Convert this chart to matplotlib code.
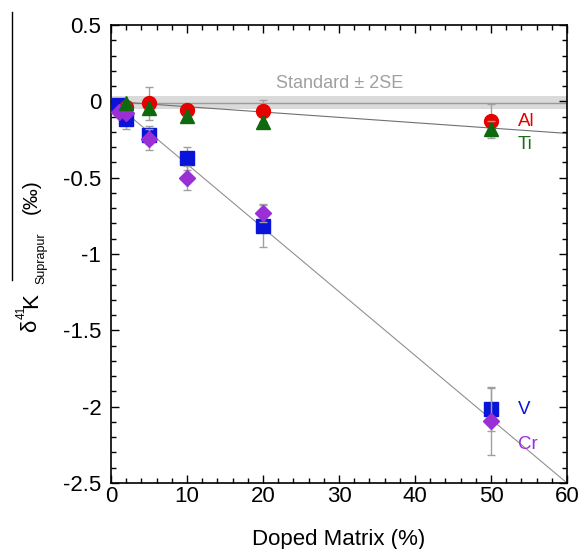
import matplotlib
matplotlib.use('Agg')
import matplotlib.pyplot as plt
from matplotlib.lines import Line2D
from matplotlib.ticker import MultipleLocator

plt.rcParams['font.family'] = ['Liberation Sans', 'DejaVu Sans']

# data
al_x = [2, 5, 10, 20, 50]
al_y = [-0.035, -0.013, -0.06, -0.064, -0.13]
al_err = [0.0, 0.11, 0.03, 0.07, 0.11]

ti_x = [2, 5, 10, 20, 50]
ti_y = [-0.01, -0.046, -0.096, -0.133, -0.18]
ti_err = [0.0, 0.0, 0.0, 0.0, 0.05]

v_x = [1, 2, 5, 10, 20, 50]
v_y = [-0.024, -0.118, -0.22, -0.373, -0.817, -2.017]
v_err = [0.0, 0.06, 0.06, 0.075, 0.14, 0.14]

cr_x = [1, 2, 5, 10, 20, 50]
cr_y = [-0.068, -0.079, -0.249, -0.504, -0.733, -2.094]
cr_err = [0.0, 0.0, 0.07, 0.08, 0.06, 0.22]

std_mid = -0.01
std_lo, std_hi = -0.05, 0.035

fit_alti_x = [0, 60]
fit_alti_y = [0.0, -0.21]
fit_vcr_x = [1, 60]
fit_vcr_y = [-0.035, -2.5]

yticks = [-2.5, -2, -1.5, -1, -0.5, 0, 0.5]
ytick_labels = ['-2.5', '-2', '-1.5', '-1', '-0.5', '0', '0.5']

W, H = 581, 549
fig = plt.figure(figsize=(W / 100, H / 100), dpi=100)
ax = fig.add_axes([111 / W, 1 - 483 / H, 456 / W, 458 / H])

ax.axhspan(std_lo, std_hi, color='#dadada', lw=0, zorder=0)
ax.axhline(std_mid, color='#9a9a9a', lw=1, zorder=1)
ax.text(30.1, 0.12, 'Standard ± 2SE', color='#a0a0a0', fontsize=13,
        ha='center', va='center')

ax.plot(fit_alti_x, fit_alti_y, color='#707070', lw=0.8, zorder=1)
ax.plot(fit_vcr_x, fit_vcr_y, color='#909090', lw=0.8, zorder=1)

ekw = dict(ls='none', ecolor='#a0a0a0', elinewidth=1, capsize=3, capthick=1)
ax.errorbar(v_x, v_y, yerr=v_err, marker='s', ms=9.5, mfc='#0a14d8',
            mec='#0a14d8', zorder=3, **ekw)
ax.errorbar(cr_x, cr_y, yerr=cr_err, marker='D', ms=8.5, mfc='#9a2fd6',
            mec='#9a2fd6', zorder=4, **ekw)
ax.errorbar(al_x, al_y, yerr=al_err, marker='o', ms=10, mfc='#e60000',
            mec='#e60000', zorder=3, **ekw)
ax.errorbar(ti_x, ti_y, yerr=ti_err, marker='^', ms=10, mfc='#0f6a0f',
            mec='#0f6a0f', zorder=4, **ekw)

ax.text(53.5, -0.13, 'Al', color='#e60000', fontsize=13.5, va='center')
ax.text(53.5, -0.285, 'Ti', color='#1a6e1a', fontsize=13.5, va='center')
ax.text(53.5, -2.02, 'V', color='#0a14d8', fontsize=13.5, va='center')
ax.text(53.5, -2.25, 'Cr', color='#9a2fd6', fontsize=13.5, va='center')

ax.set_xlim(0, 60)
ax.set_ylim(-2.5, 0.5)
ax.xaxis.set_major_locator(MultipleLocator(10))
ax.xaxis.set_minor_locator(MultipleLocator(2))
ax.set_yticks(yticks)
ax.set_yticklabels(ytick_labels)
ax.yaxis.set_minor_locator(MultipleLocator(0.1))
ax.tick_params(which='both', direction='in', top=True, right=True,
               labelsize=16, width=1)
ax.tick_params(axis='x', pad=2)
ax.tick_params(axis='y', pad=7)
ax.tick_params(which='major', length=6)
ax.tick_params(which='minor', length=3.5)
for s in ax.spines.values():
    s.set_linewidth(1.2)

ax.set_xlabel('Doped Matrix (%)', fontsize=16, labelpad=16)

# y label pieces, rotated, placed in pixels (x = baseline, y = start)
def vtext(px, py, s, size):
    fig.text(px / W, 1 - py / H, s, rotation=90, rotation_mode='anchor',
             ha='left', va='baseline', fontsize=size)

vtext(36, 332, 'δ', 16)
vtext(25, 319, '41', 8.5)
vtext(37, 308, 'K', 16)
vtext(44, 284, 'Suprapur', 9)
vtext(37, 214, '(‰)', 15)

fig.add_artist(Line2D([12 / W, 12 / W], [1 - 12 / H, 1 - 280 / H],
                      transform=fig.transFigure, color='black', lw=1))

fig.savefig('out.png', dpi=100)
